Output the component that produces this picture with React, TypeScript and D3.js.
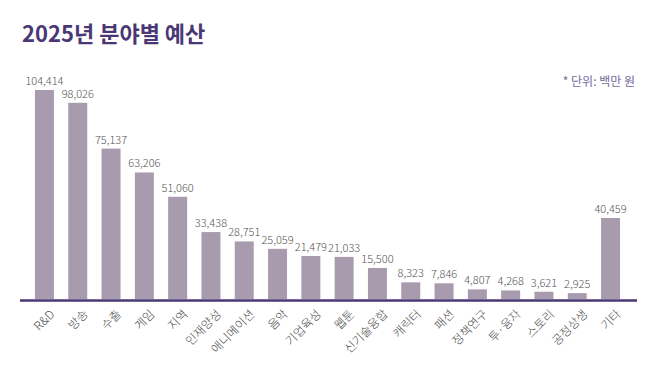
import React, { useEffect, useRef } from 'react';
import * as d3 from 'd3';

// 2025년 분야별 예산 (단위: 백만 원)
const categories = ['R&D', '방송', '수출', '게임', '지역', '인재양성', '애니메이션', '음악', '기업육성', '웹툰', '신기술융합', '캐릭터', '패션', '정책연구', '투·융자', '스토리', '공정상생', '기타'];
const budget = [104414, 98026, 75137, 63206, 51060, 33438, 28751, 25059, 21479, 21033, 15500, 8323, 7846, 4807, 4268, 3621, 2925, 40459];

const titleText = '2025년 분야별 예산';
const unitText = '* 단위: 백만 원';

const App = () => {
  const ref = useRef<SVGSVGElement | null>(null);

  useEffect(() => {
    if (!ref.current) return;
    const width = 660;
    const height = 366;
    const baseline = 299;
    const font = "'Noto Sans CJK KR', 'Noto Sans', sans-serif";

    const svg = d3.select(ref.current);
    svg.selectAll('*').remove();
    svg.attr('width', width).attr('height', height);

    svg.append('rect').attr('width', width).attr('height', height).attr('fill', '#ffffff');

    const x = d3.scaleBand<string>()
      .domain(categories)
      .range([27.8, 627.2])
      .paddingInner(0.43)
      .paddingOuter(0.215);

    const y = d3.scaleLinear().domain([0, 104414]).range([baseline, 90]);

    // title
    svg.append('text')
      .attr('x', 22)
      .attr('y', 42)
      .attr('font-family', font)
      .attr('font-weight', 700)
      .attr('font-size', 22)
      .attr('fill', '#4a3775')
      .text(titleText);

    svg.append('text')
      .attr('x', 635)
      .attr('y', 86)
      .attr('text-anchor', 'end')
      .attr('font-family', font)
      .attr('font-size', 12)
      .attr('fill', '#75699a')
      .text(unitText);

    // bars
    svg.append('g')
      .selectAll('rect')
      .data(budget)
      .enter().append('rect')
      .attr('x', (d, i) => x(categories[i]) as number)
      .attr('y', d => y(d))
      .attr('width', x.bandwidth())
      .attr('height', d => baseline - y(d))
      .attr('fill', '#a89bae');

    // value labels
    svg.append('g')
      .selectAll('text')
      .data(budget)
      .enter().append('text')
      .attr('x', (d, i) => (x(categories[i]) as number) + x.bandwidth() / 2)
      .attr('y', d => y(d) - 5)
      .attr('text-anchor', 'middle')
      .attr('font-family', font)
      .attr('font-weight', 300)
      .attr('font-size', 11)
      .attr('fill', '#555555')
      .text(d => d3.format(',')(d));

    // axis line
    svg.append('line')
      .attr('x1', 20)
      .attr('x2', 637)
      .attr('y1', baseline + 1.5)
      .attr('y2', baseline + 1.5)
      .attr('stroke', '#4a3775')
      .attr('stroke-width', 2.5);

    // category labels
    svg.append('g')
      .selectAll('text')
      .data(categories)
      .enter().append('text')
      .attr('transform', d => `translate(${(x(d) as number) + x.bandwidth() / 2 + 11},${315}) rotate(-45)`)
      .attr('text-anchor', 'end')
      .attr('font-family', font)
      .attr('font-weight', 300)
      .attr('font-size', 12)
      .attr('fill', '#4a4a4a')
      .text(d => d);
  }, []);

  return <svg ref={ref} style={{ display: 'block', margin: '-8px' }} />;
};

export default App;
